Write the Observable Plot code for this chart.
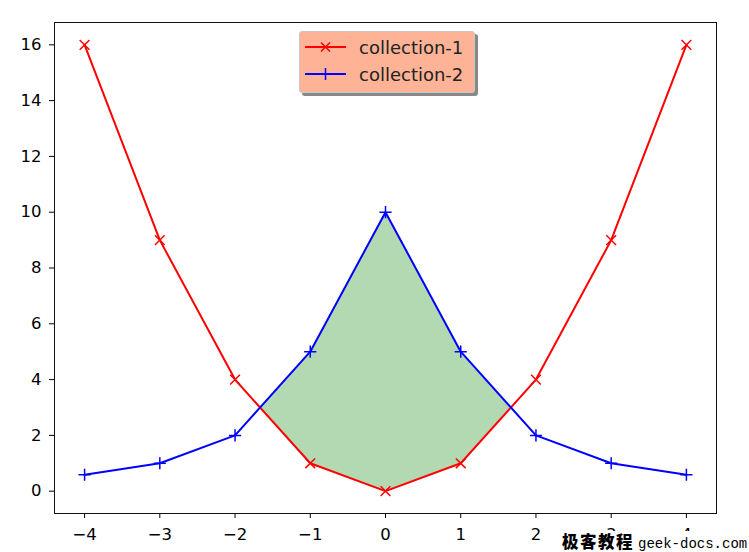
<!DOCTYPE html>
<html>
<head>
<meta charset="utf-8">
<script src="https://cdn.jsdelivr.net/npm/d3@7"></script>
<script src="https://cdn.jsdelivr.net/npm/@observablehq/plot@0.6"></script>
<style>
  html, body { margin: 0; padding: 0; background: #fff; }
  #wrap { position: relative; width: 749px; height: 552px; font-family: "DejaVu Sans", sans-serif; }
  #wrap > svg text { font-size: 16.5px; fill: #000; }
  #legend { position: absolute; left: 299px; top: 31px; width: 174px; height: 60px;
    background: rgb(255,179,150); border: 1px solid #c8c8c8; border-radius: 3px;
    box-shadow: 3px 3px 0 #888; font-size: 18px; color: #222; }
  .entry { position: absolute; left: 0; height: 22px; display: flex; align-items: center; }
  .entry svg { margin-left: 5px; }
  .entry span { margin-left: 13px; }
  #wm { position: absolute; left: 562px; top: 531px; width: 187px; height: 21px; background: #fff;
    white-space: nowrap; line-height: 20px; }
  #wm .cn { font-family: "Noto Sans CJK SC"; font-weight: 900; font-size: 16.5px; letter-spacing: 1.5px; }
  #wm .en { font-family: "Liberation Mono", monospace; font-size: 14px; margin-left: 4px; }
</style>
</head>
<body>
<div id="wrap"></div>
<script>
const xs = [-4, -3, -2, -1, 0, 1, 2, 3, 4];
const collection1 = [16, 9, 4, 1, 0, 1, 4, 9, 16];
const collection2 = [0.588, 1, 2, 5, 10, 5, 2, 1, 0.588];
const xTicks = [-4, -3, -2, -1, 0, 1, 2, 3, 4];
const yTicks = [0, 2, 4, 6, 8, 10, 12, 14, 16];
const seriesNames = ["collection-1", "collection-2"];
const seriesColors = ["red", "blue"];

const data = xs.map((x, i) => ({x, c1: collection1[i], c2: collection2[i]}));

// fill region where collection-2 >= collection-1, with crossings interpolated
const fillData = [];
for (let i = 0; i < data.length; i++) {
  const a = data[i];
  fillData.push({x: a.x, y1: a.c1, y2: Math.max(a.c1, a.c2)});
  if (i < data.length - 1) {
    const b = data[i + 1];
    const da = a.c2 - a.c1, db = b.c2 - b.c1;
    if (da * db < 0) {
      const t = da / (da - db);
      const xc = a.x + t * (b.x - a.x);
      const yc = a.c1 + t * (b.c1 - a.c1);
      fillData.push({x: xc, y1: yc, y2: yc});
    }
  }
}

const chart = Plot.plot({
  width: 749,
  height: 552,
  marginLeft: 54,
  marginRight: 33,
  marginTop: 22,
  marginBottom: 39,
  style: {fontFamily: "DejaVu Sans, sans-serif", fontSize: "16.5px", color: "#000", background: "transparent"},
  x: {domain: [-4.4, 4.4], label: null},
  y: {domain: [-0.8, 16.8], label: null},
  marks: [
    Plot.areaY(fillData, {x: "x", y1: "y1", y2: "y2", fill: "green", fillOpacity: 0.3}),
    Plot.line(data, {x: "x", y: "c1", stroke: seriesColors[0], strokeWidth: 2}),
    Plot.dot(data, {x: "x", y: "c1", symbol: "times", stroke: seriesColors[0], fill: "none", r: 4.5, strokeWidth: 1.5}),
    Plot.line(data, {x: "x", y: "c2", stroke: seriesColors[1], strokeWidth: 2}),
    Plot.dot(data, {x: "x", y: "c2", symbol: "plus", stroke: seriesColors[1], fill: "none", r: 4, strokeWidth: 1.5}),
    Plot.axisX({ticks: xTicks, tickSize: 5, tickPadding: 10, fontSize: 16.5, label: null}),
    Plot.axisY({ticks: yTicks, tickSize: 5, tickPadding: 8, fontSize: 16.5, label: null}),
    Plot.frame({stroke: "#111", strokeWidth: 1})
  ]
});

const wrap = document.getElementById("wrap");
wrap.appendChild(chart);

// legend
const legend = document.createElement("div");
legend.id = "legend";
const symbols = ["times", "plus"];
seriesNames.forEach((name, i) => {
  const e = document.createElement("div");
  e.className = "entry";
  e.style.top = (4 + i * 27) + "px";
  const svg = d3.create("svg").attr("width", 41).attr("height", 12);
  svg.append("line").attr("x1", 0).attr("x2", 41).attr("y1", 6).attr("y2", 6)
    .attr("stroke", seriesColors[i]).attr("stroke-width", 2);
  const sym = symbols[i] === "times" ? d3.symbolTimes : d3.symbolPlus;
  svg.append("path").attr("d", d3.symbol(sym, 55)()).attr("transform", "translate(20.5,6)")
    .attr("stroke", seriesColors[i]).attr("fill", "none").attr("stroke-width", 1.5);
  e.appendChild(svg.node());
  const s = document.createElement("span");
  s.textContent = name;
  e.appendChild(s);
  legend.appendChild(e);
});
wrap.appendChild(legend);

const wm = document.createElement("div");
wm.id = "wm";
wm.innerHTML = '<span class="cn">极客教程</span><span class="en">geek-docs.com</span>';
wrap.appendChild(wm);
</script>
</body>
</html>
